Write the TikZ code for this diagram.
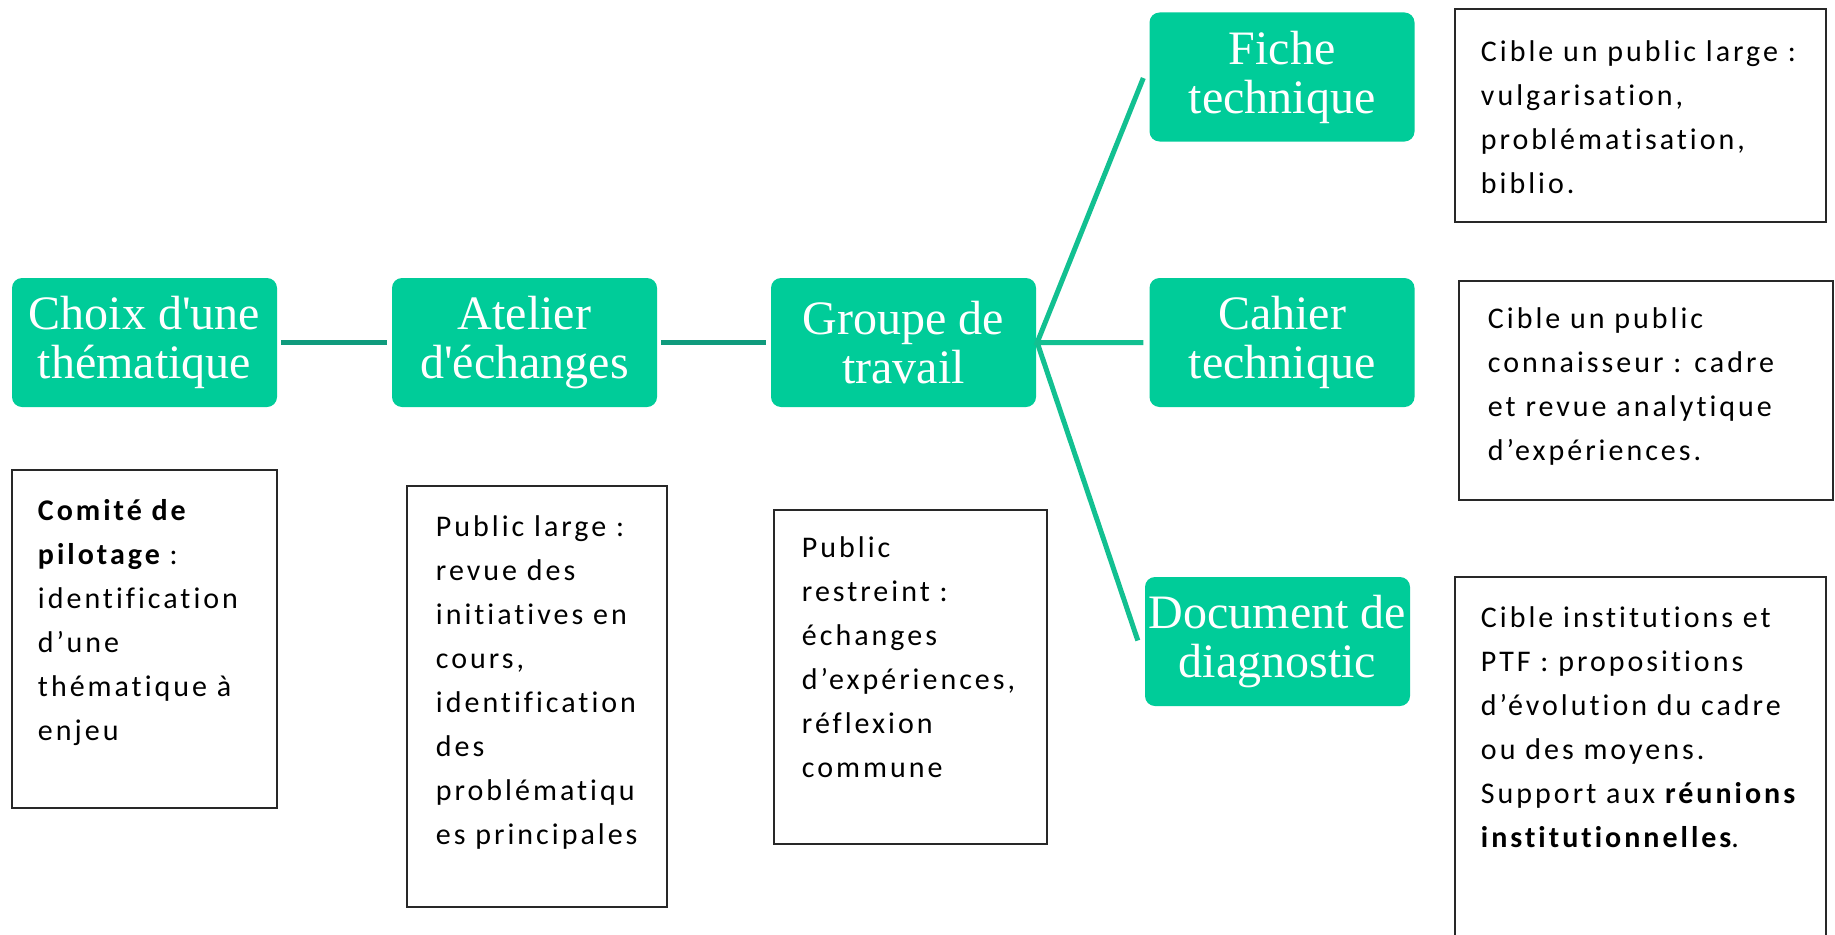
\documentclass[tikz,border=0pt]{standalone}
\usepackage{fontspec}
\usetikzlibrary{calc}
\newfontfamily\gfont{Liberation Serif}[Ligatures=TeXOff]
\newfontfamily\cfont{Carlito}[LetterSpace=10,Ligatures=NoCommon]
\newcommand{\bb}[1]{{\bfseries #1}}
\definecolor{gfill}{RGB}{0,204,153}
\definecolor{gline}{RGB}{18,192,145}
\definecolor{dline}{RGB}{16,155,125}
\definecolor{bline}{RGB}{40,40,40}
\begin{document}
\begin{tikzpicture}[x=1pt,y=-1pt,
  gbox/.style={rectangle, rounded corners=10pt, fill=gfill, text=white, align=center,
    minimum width=265pt, minimum height=129pt, inner sep=0pt,
    font=\gfont\fontsize{48}{49}\selectfont},
  tbox/.style={rectangle, draw=bline, line width=2.5pt, inner sep=0pt},
  ttext/.style={anchor=north west, align=left, inner sep=0pt,
    font=\cfont\fontsize{30}{44}\selectfont},
  dconn/.style={draw=dline, line width=5pt},
  gconn/.style={draw=gline, line width=5pt}]
\useasboundingbox (0,0) rectangle (1835,934);
\clip (0,0) rectangle (1835,934);
\fill[white] (0,0) rectangle (1835,934);

% green boxes
\node[gbox] (choix) at (144.5,342.5) {Choix d'une\\thématique};
\node[gbox] (atelier) at (524.5,342.5) {Atelier\\d'échanges};
\node[gbox] (groupe) at (903.5,342.5) {Groupe de\\travail};
\node[gbox] (fiche) at (1282,77) {Fiche\\technique};
\node[gbox] (cahier) at (1282,342.5) {Cahier\\technique};
\node[gbox] (doc) at (1277.5,641.5) {Document de\\diagnostic};

% connectors
\draw[dconn] ($(choix.east)+(4,0)$) -- ($(atelier.west)+(-5,0)$);
\draw[dconn] ($(atelier.east)+(4,0)$) -- ($(groupe.west)+(-5,0)$);
\coordinate (j) at ($(groupe.east)+(1,0)$);
\coordinate (fe) at ($(fiche.west)+(-6,1)$);
\coordinate (ce) at ($(cahier.west)+(-6,0)$);
\coordinate (de) at ($(doc.west)+(-7,-1)$);
\draw[gconn] (fe) -- (j) -- (ce);
\draw[gconn] (j) -- (de);

% text boxes
\node[tbox, minimum width=265pt, minimum height=338pt] (t1) at (144.5,639) {};
\node[tbox, minimum width=260pt, minimum height=421pt] (t2) at (537,696.5) {};
\node[tbox, minimum width=273pt, minimum height=334pt] (t3) at (910.5,677) {};
\node[tbox, minimum width=371pt, minimum height=213pt] (t4) at (1640.5,115.5) {};
\node[tbox, minimum width=374pt, minimum height=219pt] (t5) at (1646,390.5) {};
\node[tbox, minimum width=371pt, minimum height=403pt] (t6) at (1640.5,778.5) {};

\node[ttext] (x1) at ($(t1.north west)+(27,30)$) {\bb{Comité de}\\\bb{pilotage} :\\identification\\d’une\\thématique à\\enjeu};
\node[ttext] (x2) at ($(t2.north west)+(30,31)$) {Public large :\\revue des\\initiatives en\\cours,\\identification\\des\\problématiqu\\es principales};
\node[ttext] (x3) at ($(t3.north west)+(29,28)$) {Public\\restreint :\\échanges\\d’expériences,\\réflexion\\commune};
\node[ttext] (x4) at ($(t4.north west)+(27,33)$) {Cible un public large :\\vulgarisation,\\problématisation,\\biblio.};
\node[ttext] (x5) at ($(t5.north west)+(30,28)$) {Cible un public\\connaisseur : cadre\\et revue analytique\\d’expériences.};
\node[ttext] (x6) at ($(t6.north west)+(27,31)$) {Cible institutions et\\PTF : propositions\\d’évolution du cadre\\ou des moyens.\\Support aux \bb{réunions}\\\bb{institutionnelles}.};
\end{tikzpicture}
\end{document}
